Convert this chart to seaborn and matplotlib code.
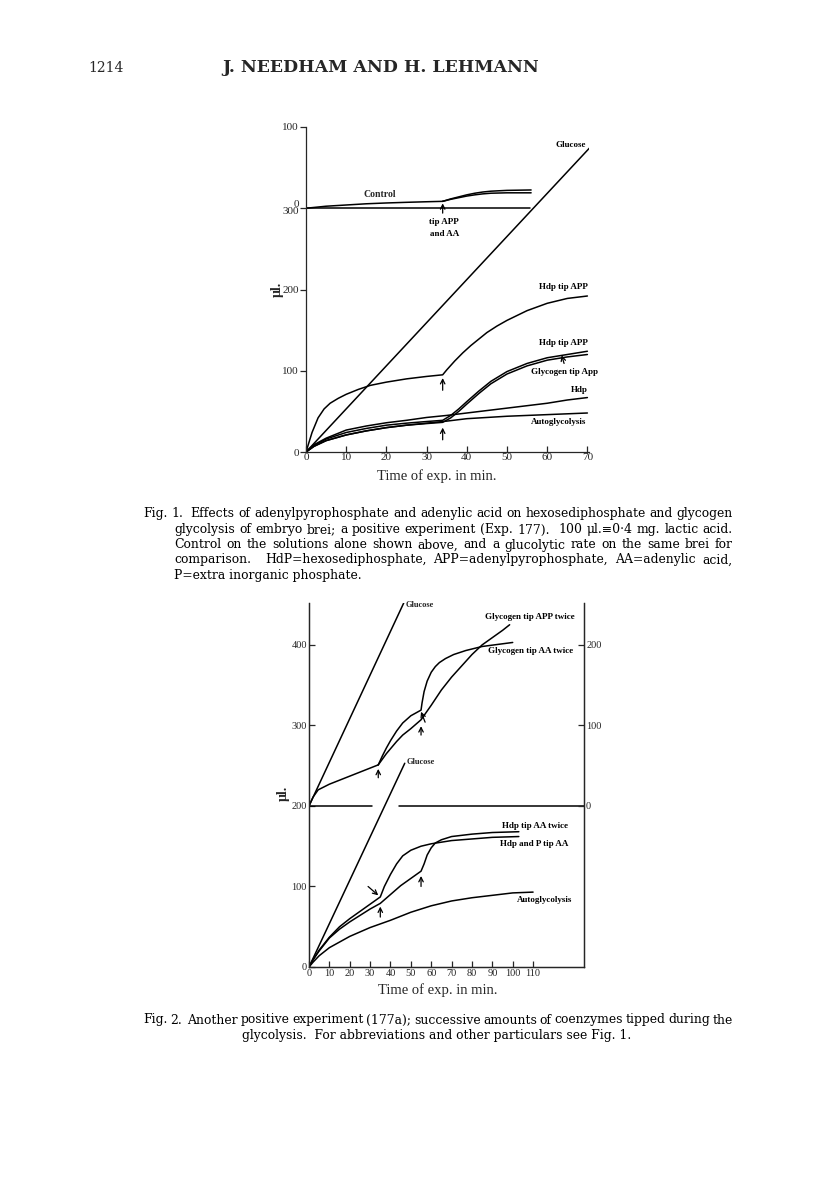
import matplotlib.pyplot as plt
import seaborn as sns
import pandas as pd

# ---------------- Fig. 1 (Exp. 177): time in min, lactic acid in ul ----------------
f1_glucose_t = [0, 70.5]
f1_glucose = [0, 374]

# control on the solutions alone (drawn on its own zero, placed at 300 of main scale)
f1_control_t = [0, 5, 10, 15, 20, 25, 30, 34]
f1_control = [0, 2.5, 4, 5.5, 6.5, 7.3, 8, 8.5]
f1_control_tip_t = [34, 36, 38, 40, 42, 44, 46, 50, 56]
f1_control_tip_a = [8.5, 11.5, 14, 16.5, 18.5, 20, 21, 22, 22.5]
f1_control_tip_b = [8.5, 11, 13, 15, 16.5, 17.7, 18.5, 19, 19]
f1_control_zero_t = [0, 55.8]
f1_control_zero = [0, 0]

f1_hdp_app_hi_t = [0, 1.5, 3, 4.5, 6, 8, 10, 13, 16, 20, 25, 30, 34, 35, 37, 39, 41, 43, 45, 47.5, 50, 55, 60, 65, 70]
f1_hdp_app_hi = [0, 24, 42, 53, 60, 66, 71, 77, 82, 86, 90, 93, 95, 101, 112, 122, 131, 139, 147, 155, 162, 174, 183, 189, 192]

f1_pair_t = [0, 2, 5, 10, 15, 20, 25, 30, 34, 36, 38, 40, 43, 46, 50, 55, 60, 65, 70]
f1_hdp_app_lo = [0, 8, 16, 24, 29, 33, 35.5, 37.5, 39, 45, 53, 62, 75, 87, 99, 109, 116, 120, 124]
f1_glycogen_app = [0, 7, 14, 21, 26, 30, 33, 35, 36.5, 42, 50, 59, 72, 84, 96, 106, 113, 117, 120]

f1_hdp_t = [0, 2, 5, 10, 15, 20, 25, 30, 35, 40, 45, 50, 55, 60, 65, 70]
f1_hdp = [0, 9, 17, 27, 32, 36, 39, 42.5, 45, 48, 51, 54, 57, 60, 64, 67]

f1_auto_t = [0, 2, 5, 10, 15, 20, 25, 30, 35, 40, 50, 60, 70]
f1_auto = [0, 7, 14, 21, 26, 30, 33, 35.5, 38, 41, 44, 46, 48]

f1_yticks = [0, 100, 200, 300, 400]
f1_yticklabels = ['0', '100', '200', '0\n300', '100']
f1_xticks = [0, 10, 20, 30, 40, 50, 60, 70]

# ---------------- Fig. 2 (Exp. 177a) ----------------
f2_glucose_t = [0, 47]
f2_glucose = [0, 253]

# glycogen series read on the right-hand scale (its 0 sits at 200 of the left scale)
f2_glucose_up_t = [0, 46.5]
f2_glucose_up = [0, 252]
f2_glyc_t = [0, 2, 4.5, 10, 15, 20, 25, 30, 34]
f2_glyc = [0, 11, 20, 27, 32, 37, 42, 47, 51]
f2_app_twice_t = [34, 36, 38, 40, 43, 46, 50, 55, 60, 65, 70, 75, 80, 85, 90, 95, 98.5]
f2_app_twice = [51, 58, 65, 71, 80, 88, 96, 107, 125, 144, 160, 174, 188, 200, 209, 218, 225]
f2_aa_twice_t = [34, 36, 38, 40, 43, 46, 50, 55, 55.5, 56.5, 58, 60, 62, 64, 67, 71, 77, 85, 100]
f2_aa_twice = [51, 62, 72, 81, 93, 103, 112, 119, 128, 142, 155, 166, 173, 178, 183, 188, 193, 198, 203]
f2_zero_segments = [([0, 31], [0, 0]), ([44, 135], [0, 0])]

f2_hdp_aa_t = [0, 2, 5, 10, 15, 20, 25, 30, 35, 40, 45, 50, 55, 56.5, 58, 60, 62, 65, 70, 80, 90, 103]
f2_hdp_aa = [0, 9, 20, 36, 47, 56, 64, 72, 79, 90, 101, 110, 119, 128, 139, 148, 154, 158, 162, 165, 167, 168]
f2_hdp_p_t = [0, 2, 5, 10, 15, 20, 25, 30, 35, 37, 40, 43, 46, 50, 55, 60, 70, 80, 90, 103]
f2_hdp_p = [0, 9, 21, 37, 50, 60, 69, 78, 87, 100, 115, 128, 138, 145, 150, 153, 157, 159, 161, 162]
f2_auto_t = [0, 2, 5, 10, 20, 30, 40, 50, 60, 70, 80, 90, 100, 110]
f2_auto = [0, 6, 14, 24, 38, 49, 58, 68, 76, 82, 86, 89, 92, 93]

f2_xticks = [0, 10, 20, 30, 40, 50, 60, 70, 80, 90, 100, 110]
f2_yticks = [0, 100, 200, 300, 400]
f2_right_ticks = [200, 300, 400]
f2_right_labels = ['0', '100', '200']

CONTROL_BASE = 300
UPPER_BASE = 200

sns.set_style('ticks')
plt.rcParams['font.family'] = ['Liberation Serif', 'DejaVu Serif']
plt.rcParams['axes.linewidth'] = 0.9

W, H = 816, 1195
fig = plt.figure(figsize=(W / 100, H / 100), dpi=100)


def curve(ax, t, y, base=0, lw=1.1):
    df = pd.DataFrame({'t': t, 'y': [v + base for v in y]})
    sns.lineplot(data=df, x='t', y='y', ax=ax, color='black', linewidth=lw,
                 sort=False, estimator=None, legend=False)


def tip(ax, x, y0, y1, x0=None):
    ax.annotate('', xy=(x, y1), xytext=(x if x0 is None else x0, y0),
                arrowprops=dict(arrowstyle='->', color='black', lw=0.9,
                                shrinkA=0, shrinkB=0, mutation_scale=8))


lab = dict(fontsize=6.5, fontweight='bold', color='black')

# ---------------- Fig. 1 ----------------
ax1 = fig.add_axes([306 / W, 1 - 452 / H, 283 / W, 325 / H])
curve(ax1, f1_glucose_t, f1_glucose)
curve(ax1, f1_control_zero_t, f1_control_zero, CONTROL_BASE)
curve(ax1, f1_control_t, f1_control, CONTROL_BASE)
curve(ax1, f1_control_tip_t, f1_control_tip_a, CONTROL_BASE)
curve(ax1, f1_control_tip_t, f1_control_tip_b, CONTROL_BASE)
curve(ax1, f1_hdp_app_hi_t, f1_hdp_app_hi)
curve(ax1, f1_pair_t, f1_hdp_app_lo)
curve(ax1, f1_pair_t, f1_glycogen_app)
curve(ax1, f1_hdp_t, f1_hdp)
curve(ax1, f1_auto_t, f1_auto)

ax1.set_xlim(0, 70.4)
ax1.set_ylim(0, 400)
ax1.set_xticks(f1_xticks)
ax1.set_yticks(f1_yticks)
ax1.set_yticklabels(f1_yticklabels, linespacing=0.75)
ax1.tick_params(axis='x', direction='in', length=4, width=0.9, labelsize=8, pad=1)
ax1.tick_params(axis='y', direction='out', length=4, width=0.9, labelsize=8, pad=1)
sns.despine(ax=ax1)
ax1.set_xlabel('')
ax1.set_ylabel('')
ax1.text(-0.1, 0.5, 'μl.', transform=ax1.transAxes, rotation=90,
         ha='center', va='center', fontsize=10, fontweight='bold')
ax1.text(0.463, -0.074, 'Time of exp. in min.', transform=ax1.transAxes,
         ha='center', va='center', fontsize=10.5)

ax1.text(69.5, 378, 'Glucose', ha='right', va='center', **lab)
ax1.text(18.3, 317, 'Control', ha='center', va='center', fontsize=7, fontweight='bold')
ax1.text(34.4, 283, 'tip APP', ha='center', va='center', **lab)
ax1.text(34.4, 268, 'and AA', ha='center', va='center', **lab)
ax1.text(70, 203, 'Hdp tip APP', ha='right', va='center', **lab)
ax1.text(70, 134, 'Hdp tip APP', ha='right', va='center', **lab)
ax1.text(72.7, 98, 'Glycogen tip App', ha='right', va='center', **lab)
ax1.text(70, 76, 'Hdp', ha='right', va='center', **lab)
ax1.text(69.8, 37, 'Autoglycolysis', ha='right', va='center', **lab)
tip(ax1, 34, 294, 306)
tip(ax1, 34, 76, 91)
tip(ax1, 34, 15, 30)
tip(ax1, 63.6, 109, 119, x0=64.2)

# ---------------- Fig. 2 ----------------
ax2 = fig.add_axes([309 / W, 1 - 967 / H, 275 / W, 364 / H])
curve(ax2, f2_glucose_t, f2_glucose)
curve(ax2, f2_glucose_up_t, f2_glucose_up, UPPER_BASE)
curve(ax2, f2_glyc_t, f2_glyc, UPPER_BASE)
curve(ax2, f2_app_twice_t, f2_app_twice, UPPER_BASE)
curve(ax2, f2_aa_twice_t, f2_aa_twice, UPPER_BASE)
for seg_t, seg_y in f2_zero_segments:
    curve(ax2, seg_t, seg_y, UPPER_BASE)
curve(ax2, f2_hdp_aa_t, f2_hdp_aa)
curve(ax2, f2_hdp_p_t, f2_hdp_p)
curve(ax2, f2_auto_t, f2_auto)

ax2.set_xlim(0, 135)
ax2.set_ylim(0, 452)
ax2.set_xticks(f2_xticks)
ax2.set_yticks(f2_yticks)
ax2.tick_params(axis='both', direction='in', length=4, width=0.9, labelsize=7.5, pad=1.5)
ax2.set_xlabel('')
ax2.set_ylabel('')
ax2.spines['top'].set_visible(False)
ax2r = ax2.twinx()
ax2r.set_ylim(0, 452)
ax2r.set_yticks(f2_right_ticks)
ax2r.set_yticklabels(f2_right_labels)
ax2r.tick_params(axis='y', direction='in', length=4, width=0.9, labelsize=7.5, pad=1.5)
ax2r.spines['top'].set_visible(False)
ax2.text(-0.095, 0.478, 'μl.', transform=ax2.transAxes, rotation=90,
         ha='center', va='center', fontsize=10, fontweight='bold')
ax2.text(0.47, -0.063, 'Time of exp. in min.', transform=ax2.transAxes,
         ha='center', va='center', fontsize=10.5)

ax2.text(47.5, 450, 'Glucose', ha='left', va='center', fontsize=6, fontweight='bold')
ax2.text(48, 255, 'Glucose', ha='left', va='center', fontsize=6, fontweight='bold')
ax2.text(108.5, 435, 'Glycogen tip APP twice', ha='center', va='center', **lab)
ax2.text(88, 392, 'Glycogen tip AA twice', ha='left', va='center', **lab)
ax2.text(94.5, 175, 'Hdp tip AA twice', ha='left', va='center', **lab)
ax2.text(94, 153, 'Hdp and P tip AA', ha='left', va='center', **lab)
ax2.text(102, 83, 'Autoglycolysis', ha='left', va='center', **lab)
tip(ax2, 34, 235, 246)
tip(ax2, 55, 288, 299)
tip(ax2, 55, 304, 317, x0=57)
tip(ax2, 34, 100, 89, x0=29)
tip(ax2, 35, 62, 75)
tip(ax2, 55, 100, 113)

# ---------------- page text ----------------
cap = dict(fontsize=8.9, family='DejaVu Serif', color='black', va='center')
rend = fig.canvas.get_renderer()


def justified(line, x0, x1, y):
    words = line.split(' ')
    texts = [fig.text(0, 1 - y / H, w, ha='left', **cap) for w in words]
    widths = [t.get_window_extent(rend).width for t in texts]
    gap = (x1 - x0 - sum(widths)) / max(len(words) - 1, 1)
    x = x0
    for t, w in zip(texts, widths):
        t.set_position((x / W, 1 - y / H))
        x += w + gap


fig.text(88 / W, 1 - 68 / H, '1214', fontsize=10, family='DejaVu Serif', va='center')
fig.text(381 / W, 1 - 68 / H, 'J. NEEDHAM AND H. LEHMANN', fontsize=12.5,
         family='DejaVu Serif', fontweight='bold', ha='center', va='center')

cap1 = [
    'Fig. 1.  Effects of adenylpyrophosphate and adenylic acid on hexosediphosphate and glycogen',
    'glycolysis of embryo brei; a positive experiment (Exp. 177).  100 μl.≡0·4 mg. lactic acid.',
    'Control on the solutions alone shown above, and a glucolytic rate on the same brei for',
    'comparison.  HdP=hexosediphosphate, APP=adenylpyrophosphate, AA=adenylic acid,',
]
justified(cap1[0], 143, 733, 514)
for i, line in enumerate(cap1[1:]):
    justified(line, 174, 733, 530 + 15 * i)
fig.text(174 / W, 1 - 575 / H, 'P=extra inorganic phosphate.', ha='left', **cap)

justified('Fig. 2.  Another positive experiment (177a); successive amounts of coenzymes tipped during the',
          143, 733, 1020)
fig.text(437 / W, 1 - 1036 / H, 'glycolysis.  For abbreviations and other particulars see Fig. 1.',
         ha='center', **cap)

fig.savefig('out.png', dpi=100)
